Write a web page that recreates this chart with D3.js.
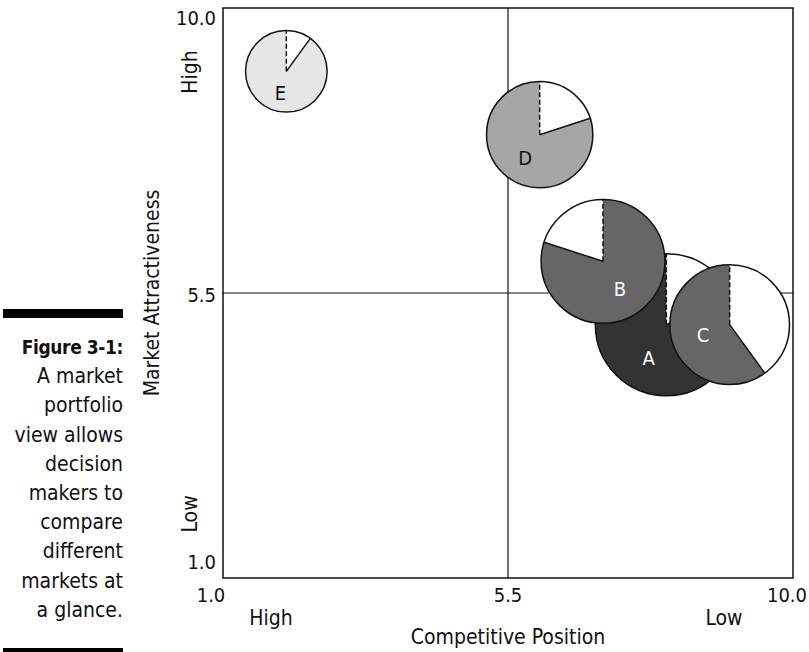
<!DOCTYPE html>
<html>
<head>
<meta charset="utf-8">
<script src="https://cdn.jsdelivr.net/npm/d3@7"></script>
<style>
  html, body { margin: 0; padding: 0; background: #fff; }
  svg { display: block; }
  text { font-family: "DejaVu Sans Condensed", "Liberation Sans Narrow", "Liberation Sans", sans-serif; fill: #111; }
</style>
</head>
<body>
<svg id="chart" width="809" height="652"></svg>
<script>
// ---- data ----
const markets   = ["A", "B", "C", "D", "E"];
const compPos   = [8, 7, 9, 6, 2];          // Competitive Position (x)
const attract   = [5, 6, 5, 8, 9];          // Market Attractiveness (y)
const mktSize   = [100, 76, 71, 56, 33];    // relative market size (bubble area)
const share     = [0.82, 0.80, 0.60, 0.80, 0.90]; // shaded share of pie
const shareFirst= [false, true, false, false, false]; // shaded slice drawn first (clockwise from 12 o'clock)
const fills     = ["#333333", "#666666", "#666666", "#a6a6a6", "#e6e6e6"];
const labelCol  = ["#ffffff", "#ffffff", "#ffffff", "#111111", "#111111"];
const drawOrder = ["E", "D", "A", "B", "C"];

const xTicks = [1.0, 5.5, 10.0];
const yTicks = [1.0, 5.5, 10.0];
const xTitle = "Competitive Position";
const yTitle = "Market Attractiveness";
const xEnds  = ["High", "Low"];
const yEnds  = ["High", "Low"];
const captionTitle = "Figure 3-1:";
const captionLines = ["A market", "portfolio", "view allows", "decision", "makers to", "compare", "different", "markets at", "a glance."];

// ---- layout ----
const svg = d3.select("#chart");
const L = 223, R = 793, T = 8, B = 578;
const x = d3.scaleLinear().domain([1, 10]).range([L, R]);
const y = d3.scaleLinear().domain([1, 10]).range([B, T]);
const rScale = d3.scaleSqrt().domain([0, 100]).range([0, 71]);
const FS = 21;

// midlines
svg.append("line").attr("x1", x(5.5)).attr("x2", x(5.5)).attr("y1", T).attr("y2", B)
  .attr("stroke", "#111").attr("stroke-width", 1.2);
svg.append("line").attr("x1", L).attr("x2", R).attr("y1", y(5.5)).attr("y2", y(5.5))
  .attr("stroke", "#111").attr("stroke-width", 1.2);

// pies
const data = markets.map((m, i) => ({
  name: m, cx: x(compPos[i]), cy: y(attract[i]), r: rScale(mktSize[i]),
  share: share[i], shareFirst: shareFirst[i], fill: fills[i], lc: labelCol[i]
}));
const pie = d3.pie().sort(null).value(d => d.v);

drawOrder.forEach(name => {
  const d = data.find(e => e.name === name);
  const slices = d.shareFirst
    ? [{k: "s", v: d.share}, {k: "w", v: 1 - d.share}]
    : [{k: "w", v: 1 - d.share}, {k: "s", v: d.share}];
  const arcs = pie(slices);
  const arc = d3.arc().innerRadius(0).outerRadius(d.r);
  const g = svg.append("g").attr("transform", `translate(${d.cx},${d.cy})`);
  g.selectAll("path.slice").data(arcs).join("path")
    .attr("class", "slice")
    .attr("d", arc)
    .attr("fill", a => a.data.k === "s" ? d.fill : "#ffffff");
  g.append("circle").attr("r", d.r).attr("fill", "none")
    .attr("stroke", "#111").attr("stroke-width", 1.5);
  // dashed radial at 12 o'clock
  g.append("line").attr("x1", 0).attr("y1", 0).attr("x2", 0).attr("y2", -d.r)
    .attr("stroke", "#111").attr("stroke-width", 1.5).attr("stroke-dasharray", "5,2.5");
  // solid radial at the other boundary
  const ang = arcs[0].endAngle;
  g.append("line").attr("x1", 0).attr("y1", 0)
    .attr("x2", Math.sin(ang) * d.r).attr("y2", -Math.cos(ang) * d.r)
    .attr("stroke", "#111").attr("stroke-width", 1.5);
  // label near centroid of shaded slice
  const sArc = arcs.find(a => a.data.k === "s");
  const lArc = d3.arc().innerRadius(0).outerRadius(d.r * 1.1);
  const c = lArc.centroid(sArc);
  g.append("text").attr("x", c[0] * 0.85).attr("y", c[1]).attr("dy", "0.35em")
    .attr("text-anchor", "middle").attr("font-size", 20)
    .style("fill", d.lc).text(d.name);
});

// frame
svg.append("rect").attr("x", L).attr("y", T).attr("width", R - L).attr("height", B - T)
  .attr("fill", "none").attr("stroke", "#111").attr("stroke-width", 1.5);

// y tick labels
yTicks.forEach((v, i) => {
  const dy = i === 0 ? -16 : (i === yTicks.length - 1 ? 10 : 2);
  svg.append("text").attr("x", L - 7).attr("y", y(v) + dy).attr("dy", "0.35em")
    .attr("text-anchor", "end").attr("font-size", 20).text(v.toFixed(1));
});
// x tick labels
xTicks.forEach((v, i) => {
  const last = i === xTicks.length - 1;
  const dx = i === 0 ? -12 : (last ? 14 : 0);
  svg.append("text").attr("x", x(v) + dx).attr("y", B + 17).attr("dy", "0.35em")
    .attr("text-anchor", last ? "end" : "middle").attr("font-size", 20).text(v.toFixed(1));
});
// x ends + title
svg.append("text").attr("x", 271).attr("y", B + 40).attr("dy", "0.35em")
  .attr("text-anchor", "middle").attr("font-size", FS).text(xEnds[0]);
svg.append("text").attr("x", 724).attr("y", B + 40).attr("dy", "0.35em")
  .attr("text-anchor", "middle").attr("font-size", FS).text(xEnds[1]);
svg.append("text").attr("x", x(5.5)).attr("y", B + 59).attr("dy", "0.35em")
  .attr("text-anchor", "middle").attr("font-size", FS).text(xTitle);
// y ends + title
svg.append("text").attr("transform", `translate(190,72) rotate(-90)`).attr("dy", "0.35em")
  .attr("text-anchor", "middle").attr("font-size", FS).text(yEnds[0]);
svg.append("text").attr("transform", `translate(190,514) rotate(-90)`).attr("dy", "0.35em")
  .attr("text-anchor", "middle").attr("font-size", FS).text(yEnds[1]);
svg.append("text").attr("transform", `translate(152,${y(5.5)}) rotate(-90)`).attr("dy", "0.35em")
  .attr("text-anchor", "middle").attr("font-size", FS).text(yTitle);

// caption
svg.append("rect").attr("x", 3).attr("y", 309).attr("width", 120).attr("height", 9).attr("fill", "#000");
svg.append("rect").attr("x", 3).attr("y", 648).attr("width", 120).attr("height", 9).attr("fill", "#000");
const cap = svg.append("text").attr("text-anchor", "end").attr("font-size", FS);
cap.append("tspan").attr("x", 123).attr("y", 354).attr("font-weight", "bold")
  .attr("font-size", 19).attr("letter-spacing", "-0.4").text(captionTitle);
captionLines.forEach((t, i) => {
  cap.append("tspan").attr("x", 123).attr("y", 354 + 29.2 * (i + 1)).text(t);
});
</script>
</body>
</html>
